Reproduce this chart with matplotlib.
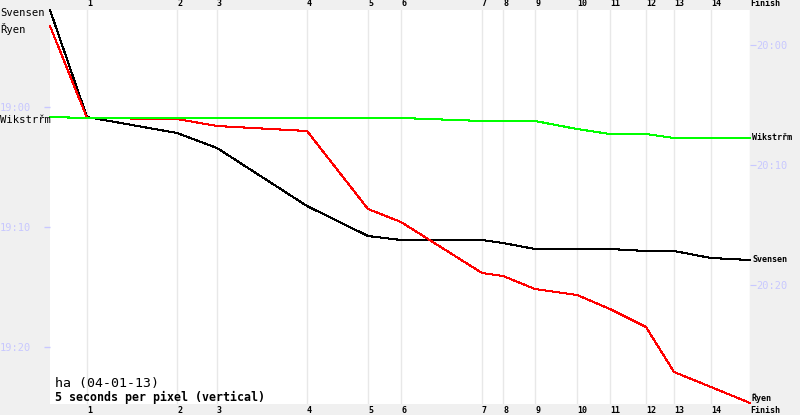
import matplotlib
matplotlib.use('Agg')
import matplotlib.pyplot as plt

# Posiciones de los controles en el eje horizontal (salida ... meta)
control_x = [0, 37, 127, 167, 257, 318, 351, 432, 453, 485, 527, 560, 596, 624, 661, 700]
control_labels = ['1', '2', '3', '4', '5', '6', '7', '8', '9', '10', '11', '12', '13', '14', 'Finish']

# Tiempos (segundos) de cada corredor en cada control
svensen = [655, 1190, 1270, 1345, 1635, 1785, 1805, 1805, 1820, 1850, 1850, 1850, 1860, 1860, 1895, 1905]
ryen = [735, 1195, 1200, 1235, 1260, 1650, 1715, 1970, 1985, 2050, 2080, 2150, 2240, 2465, 2540, 2620]
wikstrom = [1190, 1195, 1195, 1195, 1195, 1195, 1195, 1210, 1210, 1210, 1250, 1275, 1275, 1295, 1295, 1295]

runners = ['Svensen', 'Řyen', 'Wikstrřm']
runner_times = [svensen, ryen, wikstrom]
runner_colors = ['#000000', '#ff0000', '#00ff00']

left_ticks = [1140, 1740, 2340]
left_tick_labels = ['19:00', '19:10', '19:20']
right_ticks = [1200, 1800, 2400]
right_tick_labels = ['20:00', '20:10', '20:20']

lavanda = '#c8c8ff'
fondo = '#f0f0f0'
mono = 'DejaVu Sans Mono'

fig = plt.figure(figsize=(8, 4.15), dpi=100, facecolor=fondo)
ax = fig.add_axes([50 / 800, 11 / 415, 700 / 800, 394 / 415])
ax.set_facecolor('white')
ax.set_xlim(0, 700)
ax.set_ylim(2625, 655)
for s in ax.spines.values():
    s.set_visible(False)

# Líneas verticales en cada control
ax.set_xticks(control_x[1:])
ax.set_xticklabels(control_labels, ha='left', fontsize=6, fontweight='bold', family=mono)
ax.tick_params(axis='x', length=0, pad=1.5, top=True, labeltop=True)
ax.grid(axis='x', color='#e8e8e8', lw=1)
ax.set_axisbelow(True)

# Eje izquierdo
ax.set_yticks(left_ticks)
ax.set_yticklabels(left_tick_labels, fontsize=7.5, family=mono, color=lavanda)
ax.tick_params(axis='y', length=4, width=1, color=lavanda, pad=10)

# Eje derecho (desplazado 370 s)
sec = ax.secondary_yaxis('right', functions=(lambda t: t + 370, lambda s: s - 370))
sec.set_yticks(right_ticks)
sec.set_yticklabels(right_tick_labels, fontsize=7.5, family=mono, color=lavanda)
sec.tick_params(axis='y', length=4.3, width=0.8, color=lavanda, pad=0.3)
for s in sec.spines.values():
    s.set_visible(False)

# Líneas de cada corredor y sus nombres
for nombre, tiempos, color in zip(runners, runner_times, runner_colors):
    ax.plot(control_x, tiempos, color=color, lw=0.75, clip_on=False, antialiased=False)
    ax.text(-50, tiempos[0] + 15, nombre, fontsize=7.6, family=mono, color='black',
            ha='left', va='center', clip_on=False)
    y_fin = min(tiempos[-1], 2600)
    ax.text(702, y_fin - 5, nombre, fontsize=6, family=mono, fontweight='bold',
            color='black', ha='left', va='center', clip_on=False)

fig.text(55 / 800, 1 - 383 / 415, 'ha (04-01-13)', fontsize=9.5, family=mono,
         ha='left', va='center')
fig.text(55 / 800, 1 - 397 / 415, '5 seconds per pixel (vertical)', fontsize=8.4,
         family=mono, fontweight='bold', ha='left', va='center')

fig.savefig('out.png', dpi=100, facecolor=fondo)
plt.close('all')
